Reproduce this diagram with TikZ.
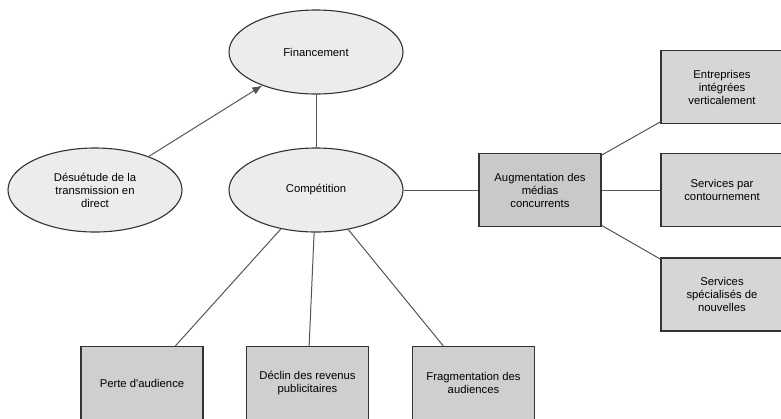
\documentclass[tikz,border=0pt]{standalone}
\usepackage{fontspec}
\setmainfont{Liberation Sans}
\usetikzlibrary{shapes,arrows,arrows.meta,positioning}

\definecolor{ovalgray}{HTML}{ECECEC}
\definecolor{boxgray}{HTML}{CFCFCF}
\definecolor{hubgray}{HTML}{C9C9C9}
\definecolor{sidegray}{HTML}{D6D6D6}
\definecolor{linegray}{HTML}{555555}

\tikzset{
  oval/.style={ellipse,draw=black!80,fill=ovalgray,line width=1.1pt,minimum width=174pt,minimum height=84pt,inner sep=0pt,align=center,font=\fontsize{11.3}{13}\selectfont},
  factor/.style={rectangle,draw=black!80,fill=boxgray,line width=1.1pt,minimum width=122pt,minimum height=73pt,inner sep=0pt,align=center,font=\fontsize{11.3}{13}\selectfont},
  link/.style={draw=linegray,line width=1pt}
}

\begin{document}
\begin{tikzpicture}[x=1pt,y=-1pt]  %% pixel grid, y down

\useasboundingbox (0,0) rectangle (781,418);
\clip (0,0) rectangle (781,418);
\fill[white] (0,0) rectangle (781,418);

%% the three ovals
\node[oval] (fin) at (316,52) {Financement};
\node[oval] (comp) at (316,190) {Compétition};
\node[oval] (desu) at (95,190) {Désuétude de la\\transmission en\\direct};

%% central box and its three services
\node[factor,fill=hubgray] (media) at (540,190) {Augmentation des\\médias\\concurrents};
\node[factor,fill=sidegray] (ent) at (722,87) {Entreprises\\intégrées\\verticalement};
\node[factor,fill=sidegray] (ott) at (722,190) {Services par\\contournement};
\node[factor,fill=sidegray] (nouv) at (722,294.5) {Services\\spécialisés de\\nouvelles};

%% effects under the competition
\node[factor] (perte) at (142,383) {Perte d\textquotesingle audience};
\node[factor] (declin) at (307.5,383) {Déclin des revenus\\publicitaires};
\node[factor] (frag) at (473.5,383) {Fragmentation des\\audiences};

%% links
\foreach \nm in {ent,ott,nouv}
  \draw[link] (media) -- (\nm);
\foreach \nm in {perte,declin,frag}
  \draw[link] (comp) -- (\nm);

\draw[link] (fin) -- (comp);
\draw[link] (comp) -- (media);
\draw[link,-{Latex[length=10pt,width=8pt]}] (desu) -- (fin);

\end{tikzpicture}
\end{document}
